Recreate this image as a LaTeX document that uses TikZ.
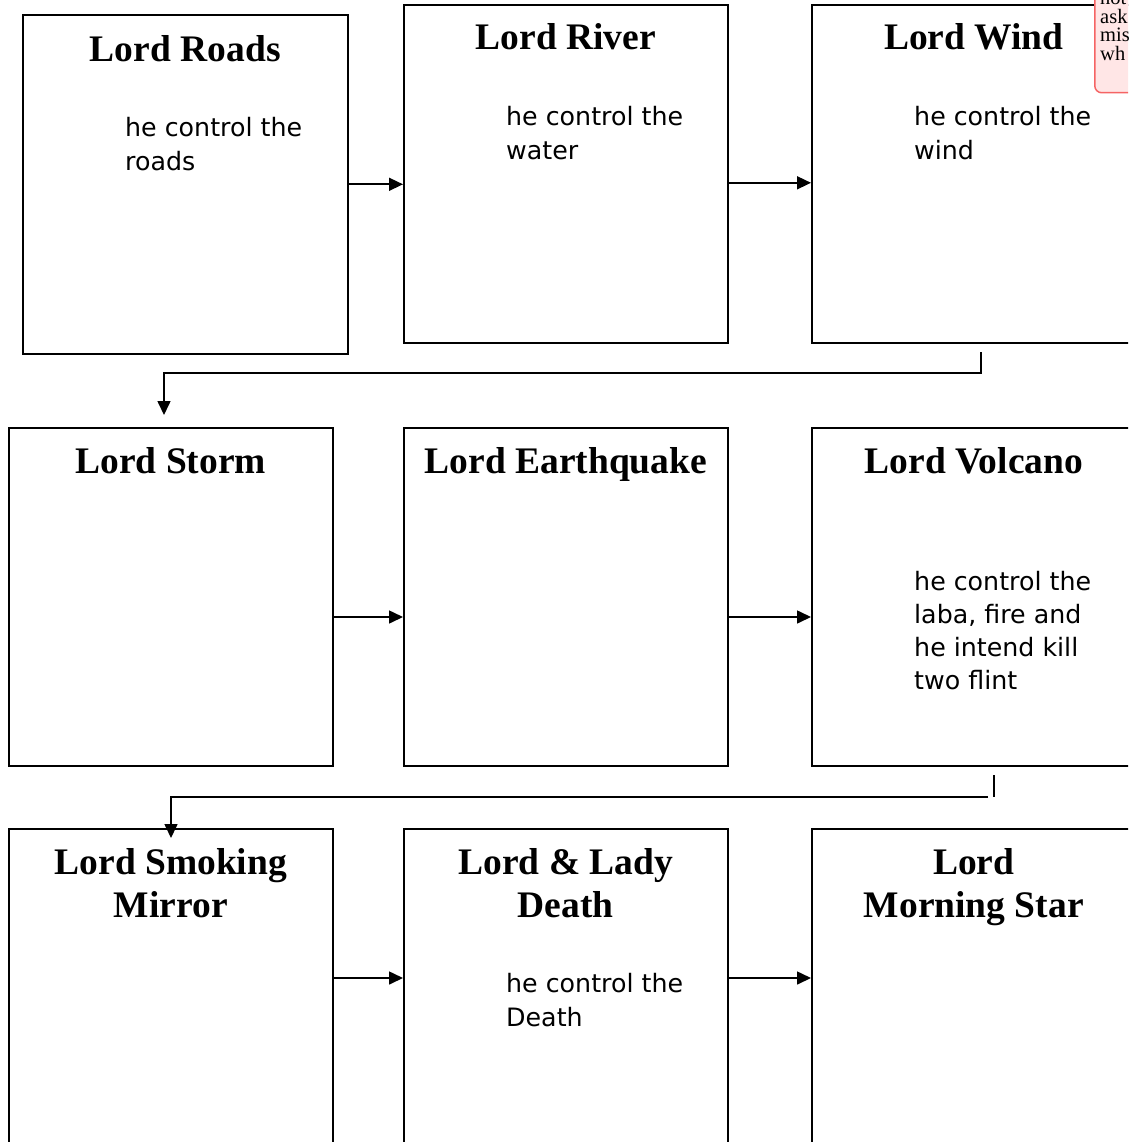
\documentclass[tikz,border=0pt]{standalone}
\usepackage{fontspec}
\setmainfont{Liberation Serif}
\newfontfamily\bodyfont{DejaVu Sans}
\usetikzlibrary{arrows.meta}
\definecolor{cmtfill}{RGB}{255,230,230}
\definecolor{cmtdraw}{RGB}{245,100,100}
\begin{document}
\begin{tikzpicture}[x=1pt,y=-1pt,
  lordbox/.style={draw,line width=1.6pt,minimum width=324pt,minimum height=338pt,anchor=north west,inner sep=0pt},
  lordtitle/.style={font=\fontsize{37.5}{43}\selectfont\bfseries,align=center,anchor=north,inner sep=0pt},
  lordbody/.style={font=\bodyfont\fontsize{25.3}{34}\selectfont,align=left,anchor=north west,inner sep=0pt},
  conn/.style={line width=1.6pt},
  arr/.style={conn,-{Triangle[length=14pt,width=13pt]}},
  cmt/.style={draw=cmtdraw,fill=cmtfill,line width=1.5pt,rounded corners=7pt,anchor=north west,minimum width=120pt,minimum height=120pt,inner sep=0pt}]
\useasboundingbox (0,0) rectangle (1128,1142);
\clip (0,0) rectangle (1128,1142);
% row 1
\node[lordbox,minimum width=325pt,minimum height=339pt] (roads) at (22,14) {};
\node[lordbox] (river) at (403,4) {};
\node[lordbox] (wind) at (811,4) {};
% row 2
\node[lordbox] (storm) at (8,427) {};
\node[lordbox] (quake) at (403,427) {};
\node[lordbox] (volcano) at (811,427) {};
% row 3
\node[lordbox] (mirror) at (8,828) {};
\node[lordbox] (death) at (403,828) {};
\node[lordbox] (star) at (811,828) {};
% titles
\node[lordtitle] (t1) at ([yshift=-21pt]roads.north) {Lord Roads};
\node[lordtitle] (t2) at ([yshift=-19pt]river.north) {Lord River};
\node[lordtitle] (t3) at ([yshift=-19pt]wind.north) {Lord Wind};
\node[lordtitle] (t4) at ([yshift=-20pt]storm.north) {Lord Storm};
\node[lordtitle] (t5) at ([yshift=-20pt]quake.north) {Lord Earthquake};
\node[lordtitle] (t6) at ([yshift=-20pt]volcano.north) {Lord Volcano};
\node[lordtitle] (t7) at ([yshift=-20pt]mirror.north) {Lord Smoking\\Mirror};
\node[lordtitle] (t8) at ([yshift=-20pt]death.north) {Lord \& Lady\\Death};
\node[lordtitle] (t9) at ([yshift=-20pt]star.north) {Lord\\Morning Star};
% body texts
\node[lordbody] (b1) at (125,117) {he control the\\roads};
\node[lordbody] (b2) at (506,106) {he control the\\water};
\node[lordbody] (b3) at (914,106) {he control the\\wind};
\node[lordbody,font=\bodyfont\fontsize{25.3}{33}\selectfont] (b6) at (914,571) {he control the\\laba, fire and\\he intend kill\\two flint};
\node[lordbody] (b8) at (506,973) {he control the\\Death};
% horizontal arrows
\draw[arr] (roads.east) -- (roads.east -| river.west);
\draw[arr] ([yshift=-9pt]river.east) -- ([yshift=-9pt]river.east -| wind.west);
\coordinate (r2) at (0,617);
\draw[arr] (storm.east |- r2) -- (quake.west |- r2);
\draw[arr] (quake.east |- r2) -- (volcano.west |- r2);
\coordinate (r3) at (0,978);
\draw[arr] (mirror.east |- r3) -- (death.west |- r3);
\draw[arr] (death.east |- r3) -- (star.west |- r3);
% row connectors
\coordinate (c1a) at (981,352);
\coordinate (c1b) at (981,373);
\coordinate (c1c) at (164,373);
\draw[arr] (c1a) -- (c1b) -- (c1c) -- ([yshift=12pt]c1c |- storm.north);
\coordinate (c2a) at (994,775);
\coordinate (c2b) at (994,797);
\draw[conn] (c2a) -- (c2b);
\coordinate (c2c) at (988,797);
\coordinate (c2d) at (171,797);
\draw[arr] (c2c) -- (c2d) -- ([yshift=-10pt]c2d |- mirror.north);
% comment
\node[cmt] (comment) at (1094,-28) {};
\node[font=\fontsize{20.5}{18.5}\selectfont,align=left,anchor=north west,inner sep=0pt] (ctext) at (1100,-7) {not\\ask\\mis\\wh};
\end{tikzpicture}
\end{document}
